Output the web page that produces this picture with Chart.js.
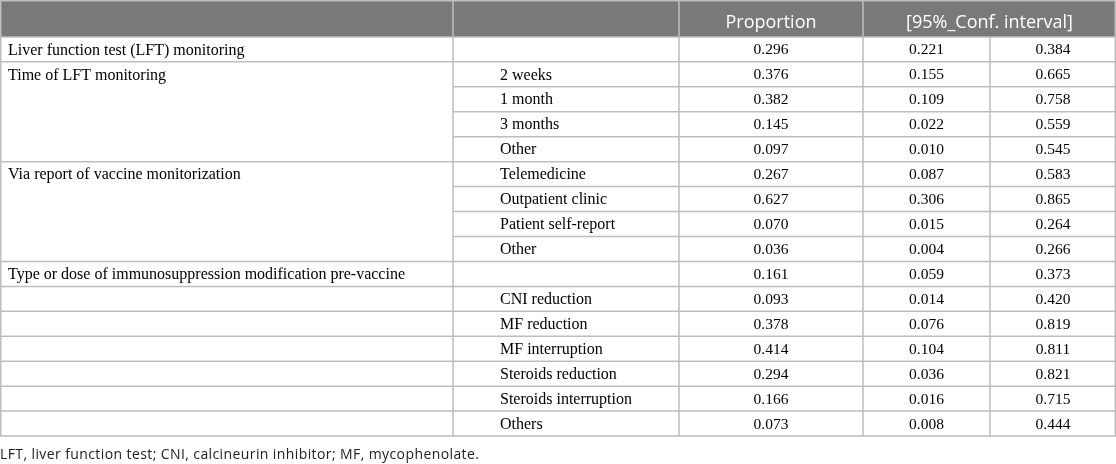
<!DOCTYPE html>
<html>
<head>
<meta charset="utf-8">
<script src="https://cdn.jsdelivr.net/npm/chart.js@4.4.1/dist/chart.umd.min.js"></script>
<style>
  html, body { margin: 0; padding: 0; background: #fff; }
  #wrap { width: 1116px; height: 464px; position: relative; }
</style>
</head>
<body>
<div id="wrap"><canvas id="table"></canvas></div>
<script>
// table content
const headers = ['', '', 'Proportion', '[95%_Conf. interval]'];
const groupLabels = [
  'Liver function test (LFT) monitoring',
  'Time of LFT monitoring',
  'Via report of vaccine monitorization',
  'Type or dose of immunosuppression modification pre-vaccine',
  '', '', '', '', '', ''
];
const groupSpans = [1, 4, 4, 1, 1, 1, 1, 1, 1, 1];
const subLabels = [
  '', '2 weeks', '1 month', '3 months', 'Other',
  'Telemedicine', 'Outpatient clinic', 'Patient self-report', 'Other',
  '', 'CNI reduction', 'MF reduction', 'MF interruption',
  'Steroids reduction', 'Steroids interruption', 'Others'
];
const proportion = [0.296, 0.376, 0.382, 0.145, 0.097, 0.267, 0.627, 0.070, 0.036, 0.161, 0.093, 0.378, 0.414, 0.294, 0.166, 0.073];
const ciLow = [0.221, 0.155, 0.109, 0.022, 0.010, 0.087, 0.306, 0.015, 0.004, 0.059, 0.014, 0.076, 0.104, 0.036, 0.016, 0.008];
const ciHigh = [0.384, 0.665, 0.758, 0.559, 0.545, 0.583, 0.865, 0.264, 0.266, 0.373, 0.420, 0.819, 0.811, 0.821, 0.715, 0.444];
const footnote = 'LFT, liver function test; CNI, calcineurin inhibitor; MF, mycophenolate.';

// layout (x in table units, y in body-row units)
const colEdges = [0, 453, 679, 863, 990, 1116];
const headerRows = 1.48;
const totalRows = 18.6;
const lineColor = '#bdbdbd';
const headerFill = '#797979';

const tablePlugin = {
  id: 'tableDraw',
  afterDraw(chart) {
    const ctx = chart.ctx;
    const xs = chart.scales.x, ys = chart.scales.y;
    const px = v => xs.getPixelForValue(v);
    const py = v => ys.getPixelForValue(v);
    const nRows = proportion.length;
    const left = px(colEdges[0]), right = px(colEdges[colEdges.length - 1]);
    const top = py(-headerRows), headBottom = py(0), bottom = py(nRows);

    ctx.save();
    // header band
    ctx.fillStyle = headerFill;
    ctx.fillRect(left, top, right - left, headBottom - top);

    // row starts of merged groups
    const groupStart = {};
    let r = 0;
    groupSpans.forEach((s, g) => { groupStart[r] = g; r += s; });

    ctx.strokeStyle = lineColor;
    ctx.lineWidth = 1.5;
    ctx.beginPath();
    // horizontal rules
    ctx.moveTo(left, top + 0.75); ctx.lineTo(right, top + 0.75);
    for (let i = 0; i <= nRows; i++) {
      const y = py(i);
      const x0 = (i === 0 || i === nRows || groupStart[i] !== undefined) ? left : px(colEdges[1]);
      ctx.moveTo(x0, y); ctx.lineTo(right, y);
    }
    // vertical rules
    colEdges.forEach((e, k) => {
      let x = px(e);
      if (k === 0) x += 0.75;
      if (k === colEdges.length - 1) x -= 0.75;
      if (k !== 4) { ctx.moveTo(x, top); ctx.lineTo(x, headBottom); }
      ctx.moveTo(x, headBottom); ctx.lineTo(x, bottom);
    });
    ctx.stroke();

    // header text
    ctx.fillStyle = '#ffffff';
    ctx.font = '18px "Open Sans", sans-serif';
    ctx.textAlign = 'center';
    ctx.textBaseline = 'middle';
    const hy = headBottom - 14;
    ctx.fillText(headers[2], (px(colEdges[2]) + px(colEdges[3])) / 2, hy);
    ctx.fillText(headers[3], (px(colEdges[3]) + px(colEdges[5])) / 2, hy);

    // body text
    ctx.fillStyle = '#000000';
    const labelFont = '16px "Liberation Serif", "Times New Roman", serif';
    const numFont = '15.5px "Liberation Serif", "Times New Roman", serif';
    ctx.font = labelFont;
    r = 0;
    groupSpans.forEach((s, g) => {
      ctx.textAlign = 'left';
      ctx.fillText(groupLabels[g], left + 8, py(r + 0.5) + 1);
      r += s;
    });
    for (let i = 0; i < nRows; i++) {
      const y = py(i + 0.5) + 1;
      ctx.font = labelFont;
      ctx.textAlign = 'left';
      ctx.fillText(subLabels[i], px(colEdges[1]) + 47, y);
      ctx.font = numFont;
      ctx.textAlign = 'center';
      ctx.fillText(proportion[i].toFixed(3), (px(colEdges[2]) + px(colEdges[3])) / 2, y);
      ctx.fillText(ciLow[i].toFixed(3), (px(colEdges[3]) + px(colEdges[4])) / 2, y);
      ctx.fillText(ciHigh[i].toFixed(3), (px(colEdges[4]) + px(colEdges[5])) / 2, y);
    }

    // footnote
    ctx.fillStyle = '#222222';
    ctx.font = '14px "Open Sans", sans-serif';
    ctx.letterSpacing = '0.4px';
    ctx.textAlign = 'left';
    ctx.fillText(footnote, left, py(16.76));
    ctx.restore();
  }
};

new Chart(document.getElementById('table'), {
  type: 'scatter',
  data: { datasets: [{ data: [] }] },
  options: {
    responsive: true,
    maintainAspectRatio: false,
    animation: false,
    layout: { padding: 0 },
    plugins: { legend: { display: false }, tooltip: { enabled: false } },
    scales: {
      x: { type: 'linear', display: false, min: colEdges[0], max: colEdges[colEdges.length - 1] },
      y: { type: 'linear', display: false, reverse: true, min: -headerRows, max: totalRows - headerRows }
    }
  },
  plugins: [tablePlugin]
});
</script>
</body>
</html>
